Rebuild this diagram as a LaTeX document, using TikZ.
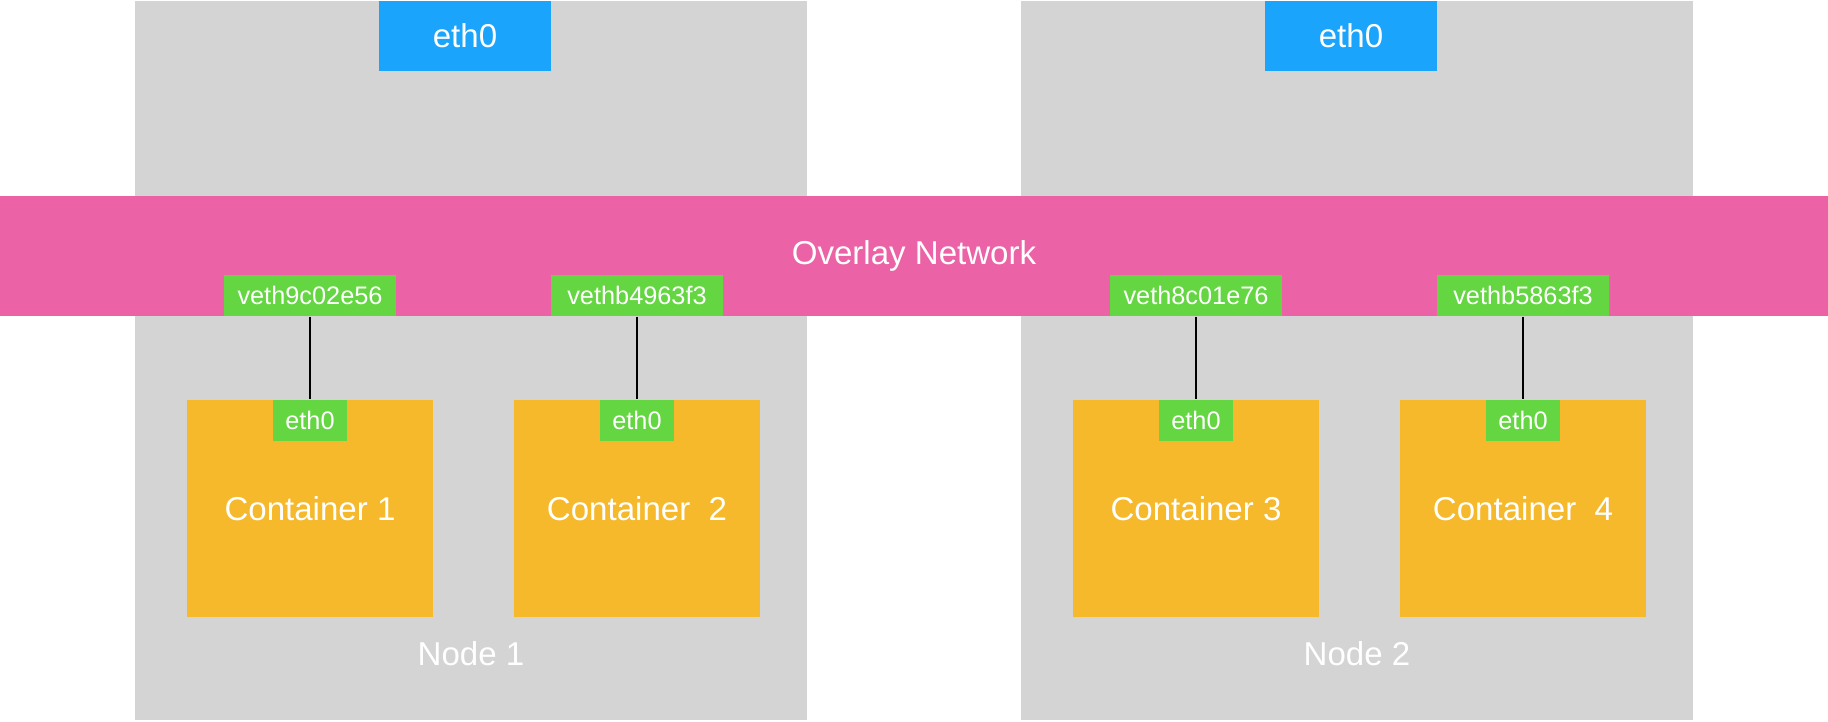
\documentclass[tikz,border=0pt]{standalone}
\usepackage{fontspec}
\setmainfont{Liberation Sans}
\usepackage{xcolor}
\usetikzlibrary{positioning}
\definecolor{hostgray}{RGB}{212,212,212}
\definecolor{ethblue}{RGB}{27,164,252}
\definecolor{overlaypink}{RGB}{236,98,166}
\definecolor{vethgreen}{RGB}{100,214,66}
\definecolor{boxorange}{RGB}{245,185,43}

\begin{document}
\begin{tikzpicture}[
    x=0.01cm, y=-0.01cm,
    font=\fontsize{9.4}{11}\selectfont,
    host/.style={fill=hostgray, inner sep=0pt, minimum width=6.72cm, minimum height=7.19cm},
    nic/.style={fill=ethblue, text=white, inner sep=0pt, minimum width=1.71cm, minimum height=0.69cm},
    veth/.style={fill=vethgreen, text=white, inner sep=0pt, minimum width=1.72cm,
                 minimum height=0.41cm, font=\fontsize{7.2}{9}\selectfont},
    ceth/.style={veth, minimum width=0.74cm},
    ctr/.style={fill=boxorange, text=white, inner sep=0pt, minimum width=2.46cm, minimum height=2.17cm},
    link/.style={black, line width=0.45pt}
  ]
    \useasboundingbox (0,0) rectangle (1828,721);

    % the two hosts
    \node[host] (host1) at (471,360.5) {};
    \node[host] (host2) at (1357,360.5) {};
    \node[text=white] (lbl1) at (471,654) {Node 1};
    \node[text=white] (lbl2) at (1357,654) {Node 2};
    \node[nic] (nic1) at (465,36) {eth0};
    \node[nic] (nic2) at (1351,36) {eth0};

    % overlay
    \node[fill=overlaypink, text=white, inner sep=0pt, minimum width=18.28cm, minimum height=1.2cm]
      (overlay) at (914,256) {Overlay Network};

    \node[veth] (v1) at (310,295.5)  {veth9c02e56};
    \node[veth] (v2) at (637,295.5)  {vethb4963f3};
    \node[veth] (v3) at (1196,295.5) {veth8c01e76};
    \node[veth] (v4) at (1523,295.5) {vethb5863f3};

    % containers
    \node[ctr] (c1) at (310,508.5)  {Container 1};
    \node[ctr] (c2) at (637,508.5)  {Container~~2};
    \node[ctr] (c3) at (1196,508.5) {Container 3};
    \node[ctr] (c4) at (1523,508.5) {Container~~4};
    \foreach \n in {1,2,3,4}
      \node[ceth, anchor=north] (e\n) at (c\n.north) {eth0};

    \foreach \n in {1,2,3,4} \draw[link] (v\n.south) -- (e\n.north);
\end{tikzpicture}
\end{document}
